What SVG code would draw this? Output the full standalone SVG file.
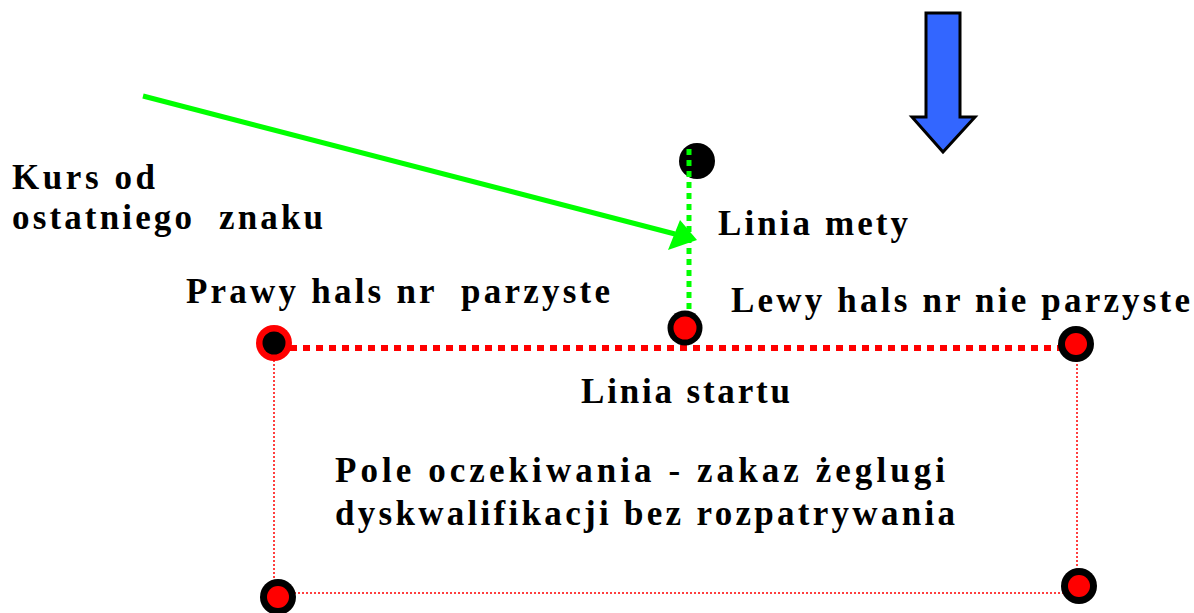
<svg xmlns="http://www.w3.org/2000/svg" width="1194" height="613" viewBox="0 0 1194 613">
<style>
.t{font-family:"Liberation Serif","Times New Roman",serif;font-weight:bold;font-size:35px;fill:#000}
.thin{stroke:#ff0000;stroke-width:1.5;stroke-dasharray:2 2;fill:none}
.mark{fill:#000}
</style>
<rect width="1194" height="613" fill="#fff"/>
<g id="connectors">
<line class="thin" x1="274" y1="360" x2="274" y2="580"/>
<line class="thin" x1="1077" y1="360" x2="1077" y2="572"/>
<line class="thin" x1="290" y1="593" x2="1065" y2="593"/>
<line x1="290" y1="348" x2="1062" y2="348" stroke="#ff0000" stroke-width="6" stroke-dasharray="7 6"/>
<line x1="143" y1="96" x2="675" y2="234" stroke="#00ff00" stroke-width="5"/>
<polygon points="697,240 680,220 668,250" fill="#00ff00"/>
</g>
<g id="finish-mark-top">
<circle cx="697" cy="161" r="18" class="mark"/>
</g>
<line id="finish-line" x1="689" y1="149" x2="689" y2="312" stroke="#00ff00" stroke-width="5" stroke-dasharray="6 5"/>
<g id="finish-mark-bottom">
<circle cx="685" cy="328" r="17.5" fill="#000"/>
<circle cx="685" cy="328" r="11.5" fill="#ff0000"/>
</g>
<g id="start-left">
<circle cx="274" cy="343" r="18" fill="#ff0000"/>
<circle cx="274" cy="343" r="11.5" fill="#000"/>
</g>
<g id="start-right">
<circle cx="1076" cy="344" r="18" fill="#000"/>
<circle cx="1076" cy="344" r="11" fill="#ff0000"/>
</g>
<g id="corner-bottom-left">
<circle cx="278" cy="597" r="18" fill="#000"/>
<circle cx="278" cy="597" r="11" fill="#ff0000"/>
</g>
<g id="corner-bottom-right">
<circle cx="1079" cy="586" r="18" fill="#000"/>
<circle cx="1079" cy="586" r="11" fill="#ff0000"/>
</g>
<g id="wind-arrow">
<polygon points="926,13 960,13 960,117 975,117 943,152 912,117 926,117" fill="#3366ff" stroke="#000" stroke-width="3" stroke-linejoin="miter"/>
</g>
<g id="labels">
<text class="t" x="12" y="189" textLength="143" lengthAdjust="spacing">Kurs od</text>
<text class="t" x="12" y="229" textLength="311" lengthAdjust="spacing" xml:space="preserve">ostatniego  znaku</text>
<text class="t" x="718" y="235" textLength="190" lengthAdjust="spacing">Linia mety</text>
<text class="t" x="186" y="303" textLength="424" lengthAdjust="spacing" xml:space="preserve">Prawy hals nr  parzyste</text>
<text class="t" x="731" y="312" textLength="459" lengthAdjust="spacing">Lewy hals nr nie parzyste</text>
<text class="t" x="581" y="403" textLength="209" lengthAdjust="spacing">Linia startu</text>
<text class="t" x="335" y="482" textLength="610" lengthAdjust="spacing">Pole oczekiwania - zakaz żeglugi</text>
<text class="t" x="335" y="525" textLength="620" lengthAdjust="spacing">dyskwalifikacji bez rozpatrywania</text>
</g>
</svg>
